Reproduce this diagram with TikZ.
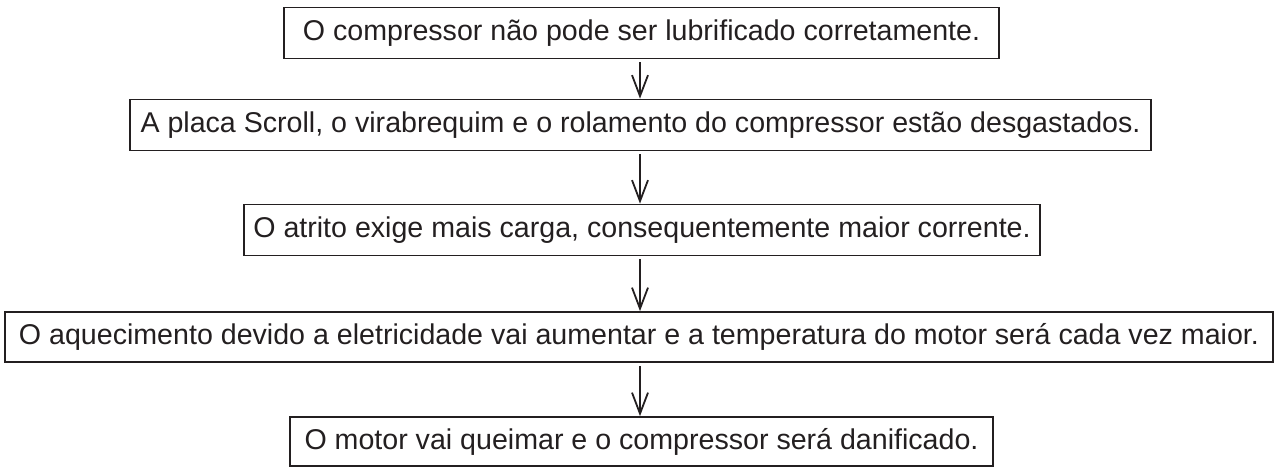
\documentclass[tikz,border=0pt]{standalone}
\usepackage{fontspec}
\setmainfont{Liberation Sans}
\usetikzlibrary{arrows.meta}
\definecolor{ink}{RGB}{35,31,32}
\begin{document}
\begin{tikzpicture}[x=1pt,y=-1pt,
  stepbox/.style={draw=ink, line width=1.7pt, text=ink, inner sep=0pt,
    font=\fontsize{28.6}{34}\selectfont, minimum height=51pt},
  arr/.style={draw=ink, line width=1.8pt, shorten <=3pt,
    -{Straight Barb[length=21pt,width=16pt,line width=1.8pt]}}]
\useasboundingbox (0,0) rectangle (1281,467);
\node[stepbox, minimum width=715pt] (b1) at (641.5,33) {O compressor não pode ser lubrificado corretamente.};
\node[stepbox, minimum width=1021pt] (b2) at (640.5,125) {A placa Scroll, o virabrequim e o rolamento do compressor estão desgastados.};
\node[stepbox, minimum width=796pt] (b3) at (642,230) {O atrito exige mais carga, consequentemente maior corrente.};
\node[stepbox, minimum width=1268pt, minimum height=50pt] (b4) at (639,337) {O aquecimento devido a eletricidade vai aumentar e a temperatura do motor será cada vez maior.};
\node[stepbox, minimum width=703pt, minimum height=49pt] (b5) at (641.5,441.5) {O motor vai queimar e o compressor será danificado.};
\coordinate (ax) at (640,0);
\draw[arr] (b1.south -| ax) -- (b2.north -| ax);
\draw[arr] (b2.south -| ax) -- (b3.north -| ax);
\draw[arr] (b3.south -| ax) -- (b4.north -| ax);
\draw[arr] (b4.south -| ax) -- (b5.north -| ax);
\end{tikzpicture}
\end{document}
